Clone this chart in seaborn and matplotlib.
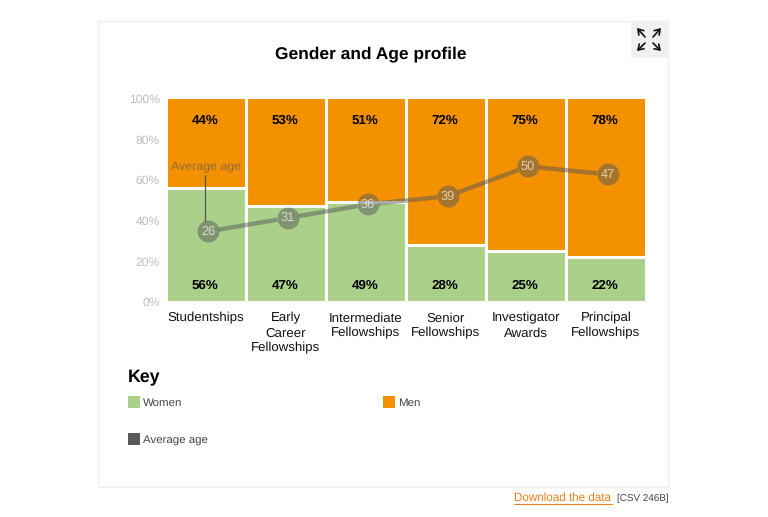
import numpy as np
import pandas as pd
import matplotlib
matplotlib.use('Agg')
import matplotlib.pyplot as plt
import seaborn as sns
from matplotlib.patches import Rectangle
from matplotlib.path import Path
from matplotlib.transforms import IdentityTransform, Affine2D

categories = ['Studentships', 'Early\nCareer\nFellowships', 'Intermediate\nFellowships',
              'Senior\nFellowships', 'Investigator\nAwards', 'Principal\nFellowships']
women = [56, 47, 49, 28, 25, 22]
men = [44, 53, 51, 72, 75, 78]
average_age = [26, 31, 36, 39, 50, 47]
y_ticks = [0, 20, 40, 60, 80, 100]

GREEN = '#abd08a'
ORANGE = '#f39100'
DARK = '#595959'
W, H = 768, 517


def fx(x):
    return x / W


def fy(y):
    return 1 - y / H


sns.set_theme(style='white')
plt.rcParams['font.family'] = ['Liberation Sans', 'DejaVu Sans']
plt.rcParams['text.hinting'] = 'no_hinting'

df = pd.DataFrame({'category': categories, 'women': women, 'men': men, 'age': average_age})
df['total'] = df['women'] + df['men']

fig = plt.figure(figsize=(W / 100, H / 100), dpi=100)
ax = fig.add_axes([fx(166), fy(302), 480 / W, 203.5 / H])

# card and expand button
fig.add_artist(Rectangle((fx(98), fy(487)), 570 / W, 466 / H, transform=fig.transFigure,
                         facecolor='white', edgecolor='#eeeeee', linewidth=1.0, zorder=-5))
fig.add_artist(Rectangle((fx(631), fy(58)), 38 / W, 37 / H, transform=fig.transFigure,
                         facecolor='#f0f0f0', edgecolor='none', zorder=-4))
for tail, tip in [((645, 37), (637, 28)), ((653, 37), (661, 28)),
                  ((645, 43), (637, 51)), ((653, 43), (661, 51))]:
    ax.annotate('', xy=(fx(tip[0]), fy(tip[1])), xytext=(fx(tail[0]), fy(tail[1])),
                xycoords='figure fraction', textcoords='figure fraction',
                arrowprops=dict(arrowstyle='->,head_length=0.3,head_width=0.2', color='#111111',
                                linewidth=1.2, shrinkA=0, shrinkB=0))

ax.patch.set_alpha(0)
sns.barplot(data=df, x='category', y='total', color=ORANGE, saturation=1, width=0.9625,
            linewidth=0, ax=ax)
sns.barplot(data=df, x='category', y='women', color=GREEN, saturation=1, width=1,
            edgecolor='white', linewidth=2.2, ax=ax)
ax.set_ylim(0, 100)
ax.set_xlabel('')
ax.set_ylabel('')
ax.set_yticks(y_ticks)
ax.set_yticklabels([f'{t}%' for t in y_ticks], color='#bdbdbd', fontsize=8.7)
ax.tick_params(axis='y', length=0, pad=4.5)
ax.tick_params(axis='x', length=0, pad=7.3, labelsize=9.5, labelcolor='#111111')
for lab in ax.get_xticklabels():
    lab.set_linespacing(1.3)
sns.despine(ax=ax, left=True, bottom=True)

for i in range(len(categories)):
    ax.text(i - 0.012, 8.3, f'{women[i]}%', ha='center', va='center', fontsize=9.6,
            fontweight='bold', color='black')
    ax.text(i - 0.012, 89.2, f'{men[i]}%', ha='center', va='center', fontsize=9.6,
            fontweight='bold', color='black')

# average age sits on its own hidden scale
ax2 = ax.twinx()
ax2.set_xlim(ax.get_xlim())
ax2.set_ylim(0, 75)
ax2.axis('off')
age_x = np.arange(len(average_age)) + 0.025
sns.lineplot(x=age_x, y=average_age, color=DARK, alpha=0.5, linewidth=3.2, ax=ax2)
sns.scatterplot(x=age_x, y=average_age, color=DARK, alpha=0.5, s=250, linewidth=0, ax=ax2)
ax2.set_xlim(ax.get_xlim())
ax2.set_ylim(0, 75)

# stop the line at the circles so the alpha does not double up
centres = ax2.transData.transform(np.column_stack([age_x, average_age]))
outer = Path([(0, 0), (0, H), (W, H), (W, 0), (0, 0)])
holes = [Path.unit_circle().transformed(Affine2D().scale(11).translate(cx, cy)) for cx, cy in centres]
ax2.lines[0].set_clip_path(Path.make_compound_path(outer, *holes), IdentityTransform())

for x, age in zip(age_x, average_age):
    ax2.text(x, age, str(age), ha='center', va='center', fontsize=9.2, color='white', alpha=0.65)

fig.add_artist(plt.Line2D([fx(205), fx(205)], [fy(175), fy(221)], transform=fig.transFigure,
                          color='#555555', linewidth=0.9, zorder=5))
fig.text(fx(205.5), fy(166), 'Average age', ha='center', va='center', fontsize=8.9,
         color=DARK, alpha=0.65, zorder=5)

fig.text(fx(371), fy(54), 'Gender and Age profile', ha='center', va='center', fontsize=12.5,
         fontweight='bold', color='black')
fig.text(fx(128), fy(378), 'Key', ha='left', va='center', fontsize=12.8, fontweight='bold',
         color='black')

for sx, sy, colour, label in [(128, 396, GREEN, 'Women'), (383, 396, ORANGE, 'Men'),
                              (128, 433, DARK, 'Average age')]:
    fig.add_artist(Rectangle((fx(sx), fy(sy + 11.5)), 11.5 / W, 11.5 / H, transform=fig.transFigure,
                             facecolor=colour, edgecolor='none'))
    fig.text(fx(sx + 15), fy(sy + 7), label, ha='left', va='center', fontsize=8.25, color='#444444')

fig.text(fx(514), fy(498), 'Download the data', ha='left', va='center', fontsize=8.35, color='#ee7f1a')
fig.add_artist(plt.Line2D([fx(514), fx(612)], [fy(504), fy(504)], transform=fig.transFigure,
                          color='#ee7f1a', linewidth=0.8))
fig.text(fx(617), fy(498.5), '[CSV 246B]', ha='left', va='center', fontsize=7.1, color='#444444')

fig.savefig('out.png', dpi=100)
